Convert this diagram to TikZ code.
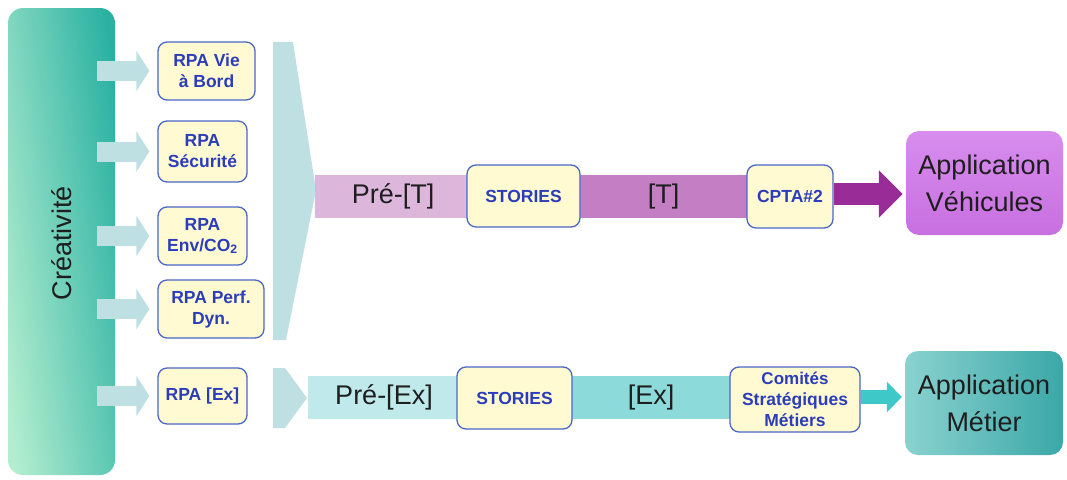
\documentclass[tikz,border=0pt]{standalone}
\usepackage{fontspec}
\setmainfont{Liberation Sans}
\usetikzlibrary{arrows.meta,calc}
\definecolor{creaL}{HTML}{B2EDCF}
\definecolor{creaR}{HTML}{2AB1A2}
\definecolor{arrowc}{HTML}{BEE0E3}
\definecolor{rpafill}{HTML}{FFFAD2}
\definecolor{rpaline}{HTML}{4A67C6}
\definecolor{rpatext}{HTML}{2B3DB9}
\definecolor{bandTa}{HTML}{DDB6DC}
\definecolor{bandTb}{HTML}{C47EC3}
\definecolor{arrowT}{HTML}{9A2C98}
\definecolor{appVa}{HTML}{D78DEE}
\definecolor{appVb}{HTML}{C86FE0}
\definecolor{bandEa}{HTML}{BFE9EA}
\definecolor{bandEb}{HTML}{8CDADA}
\definecolor{arrowE}{HTML}{3EC8C8}
\definecolor{appMa}{HTML}{8AD2D0}
\definecolor{appMb}{HTML}{3AA8A7}
\definecolor{textdark}{HTML}{1E1E1E}
\begin{document}
\begin{tikzpicture}[x=1pt,y=-1pt,
  rpa/.style={draw=rpaline, line width=1.3pt, fill=rpafill, rounded corners=9pt,
    text=rpatext, font=\fontsize{17.5}{21}\selectfont\bfseries, align=center,
    inner sep=0pt},
  band/.style={inner sep=0pt, minimum height=43pt, font=\fontsize{27}{32}\selectfont, text=textdark},
  bigbox/.style={rounded corners=13pt, inner sep=0pt, align=center,
    font=\fontsize{27}{37}\selectfont, text=textdark},
  sarrow/.style={draw=arrowc, line width=20pt, -{Triangle[length=13pt,width=40pt]}, shorten >=8pt},
  tarrow/.style={draw=arrowT, line width=22pt, -{Triangle[length=24pt,width=46pt]}, shorten >=3pt},
  earrow/.style={draw=arrowE, line width=14pt, -{Triangle[length=15pt,width=30pt]}, shorten >=3pt}
]
\useasboundingbox (0,0) rectangle (1067,479);

% Creativite column
\node[rounded corners=15pt, left color=creaL, right color=creaR, shading angle=98, minimum width=107pt,
  minimum height=467pt, inner sep=0pt] (crea) at (61.5,241.5) {};
\node[rotate=90, font=\fontsize{27}{32}\selectfont, text=textdark] (creat) at (61.5,243) {Créativité};

% RPA boxes
\node[rpa, minimum width=97pt, minimum height=58pt] (r1) at (206.5,71) {RPA Vie\\à Bord};
\node[rpa, minimum width=89pt, minimum height=61pt] (r2) at (202.5,151.5) {RPA\\Sécurité};
\node[rpa, minimum width=89pt, minimum height=58pt] (r3) at (202.5,236) {RPA\\Env/CO\textsubscript{2}};
\node[rpa, minimum width=106pt, minimum height=58pt] (r4) at (211,309) {RPA Perf.\\Dyn.};
\node[rpa, minimum width=89pt, minimum height=56pt] (r5) at (202.5,396) {RPA [Ex]};

% arrows from Creativite
\foreach \r in {r1,r2,r3,r4,r5}{
  \draw[sarrow] ([xshift=-18pt]crea.east |- \r.west) -- (\r.west);
}

% chevrons
\fill[arrowc] (273,42) -- (293,42) -- (316,190) -- (286,340) -- (273,340) -- cycle;
\fill[arrowc] (273,368) -- (285,368) -- (307,398) -- (285,428) -- (273,428) -- cycle;

% top line
\node[band, fill=bandTa, minimum width=156pt] (preT) at (393,196.5) {Pré-[T]};
\node[band, fill=bandTb, minimum width=171pt] (bT) at (663.5,196.5) {[T]};
\node[rpa, minimum width=113pt, minimum height=62pt] (stT) at (523.5,196) {STORIES};
\node[rpa, minimum width=86pt, minimum height=63pt] (cpta) at (790,196.5) {CPTA\#2};
\node[bigbox, top color=appVa, bottom color=appVb, minimum width=157pt, minimum height=104pt] (appV) at (984.5,183) {Application\\Véhicules};
\coordinate (cptaout) at ([yshift=2.5pt]cpta.east);
\draw[tarrow] (cptaout) -- (cptaout -| appV.west);

% bottom line
\node[band, fill=bandEa, minimum width=152pt] (preE) at (384,397.5) {Pré-[Ex]};
\node[band, fill=bandEb, minimum width=166pt] (bE) at (651,397.5) {[Ex]};
\node[rpa, minimum width=115pt, minimum height=62pt] (stE) at (514.5,398) {STORIES};
\node[rpa, minimum width=130pt, minimum height=65pt] (com) at (795,399.5) {\fontsize{17}{20.5}\selectfont Comités\\Stratégiques\\Métiers};
\node[bigbox, left color=appMa, right color=appMb, minimum width=158pt, minimum height=104pt] (appM) at (984,403) {Application\\Métier};
\coordinate (comout) at ([yshift=2.5pt]com.east);
\draw[earrow] (comout) -- (comout -| appM.west);
\end{tikzpicture}
\end{document}
